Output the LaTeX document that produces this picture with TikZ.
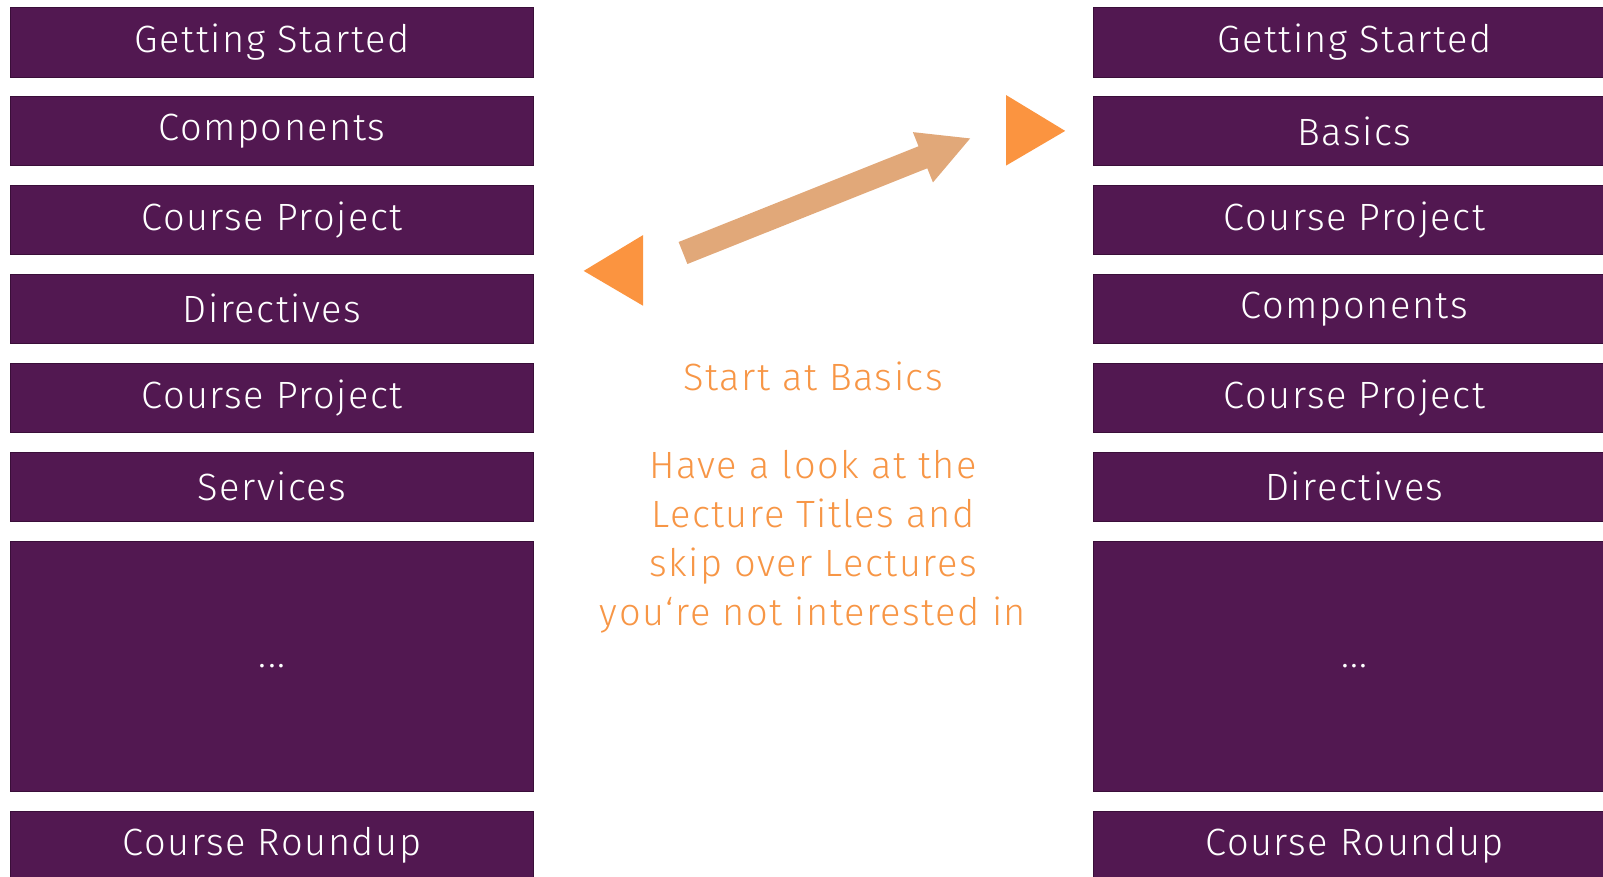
\documentclass[tikz,border=0pt]{standalone}
\usepackage{fontspec}
\setmainfont{Fira Sans Light}[LetterSpace=4]
\usetikzlibrary{arrows.meta}
\definecolor{boxfill}{HTML}{521851}
\definecolor{boxline}{HTML}{3A0E39}
\definecolor{tri}{HTML}{FB9440}
\definecolor{hint}{HTML}{F79646}
\definecolor{tan}{HTML}{E1A879}
\tikzset{
  lecture/.style={draw=boxline, fill=boxfill, text=white, inner sep=0pt,
    minimum width=523pt, minimum height=69.5pt, font=\fontsize{38}{42}\selectfont},
  hint/.style={text=hint, align=center, font=\fontsize{38}{49}\selectfont}
}
\begin{document}
\begin{tikzpicture}[x=1pt,y=-1pt]
  \useasboundingbox (0,0) rectangle (1603,876);
  \clip (0,0) rectangle (1603,876);
  % left column
  \foreach \txt [count=\i] in {Getting Started,Components,Course Project,Directives,Course Project,Services}
    \node[lecture] (l\i) at (272,{42+(\i-1)*88.9}) {\txt};
  \node[lecture, minimum height=250.5pt] (l7) at (272,666) {...};
  \node[lecture] (l8) at (272,845.5) {Course Roundup};
  % right column
  \foreach \txt [count=\i] in {Getting Started,Basics,Course Project,Components,Course Project,Directives}
    \node[lecture] (r\i) at (1354.5,{42+(\i-1)*88.9}) {\txt};
  \node[lecture, minimum height=250.5pt] (r7) at (1354.5,666) {...};
  \node[lecture] (r8) at (1354.5,845.5) {Course Roundup};
  % markers
  \fill[tri] (583.7,270.9) -- (643,235.1) -- (643,305.7) -- cycle;
  \fill[tri] (1006,95) -- (1065.2,130.9) -- (1006,165.6) -- cycle;
  \coordinate (tail) at (683,253);
  \coordinate (tip) at (971.2,138);
  \draw[tan, line width=23.7pt, -{Triangle[length=52pt,width=50pt]}] (tail) -- (tip);
  % hints
  \node[hint] (start) at (813,376) {Start at Basics};
  \node[hint] (skip) at (813,542) {Have a look at the\\Lecture Titles and\\skip over Lectures\\you‘re not interested in};
\end{tikzpicture}
\end{document}
